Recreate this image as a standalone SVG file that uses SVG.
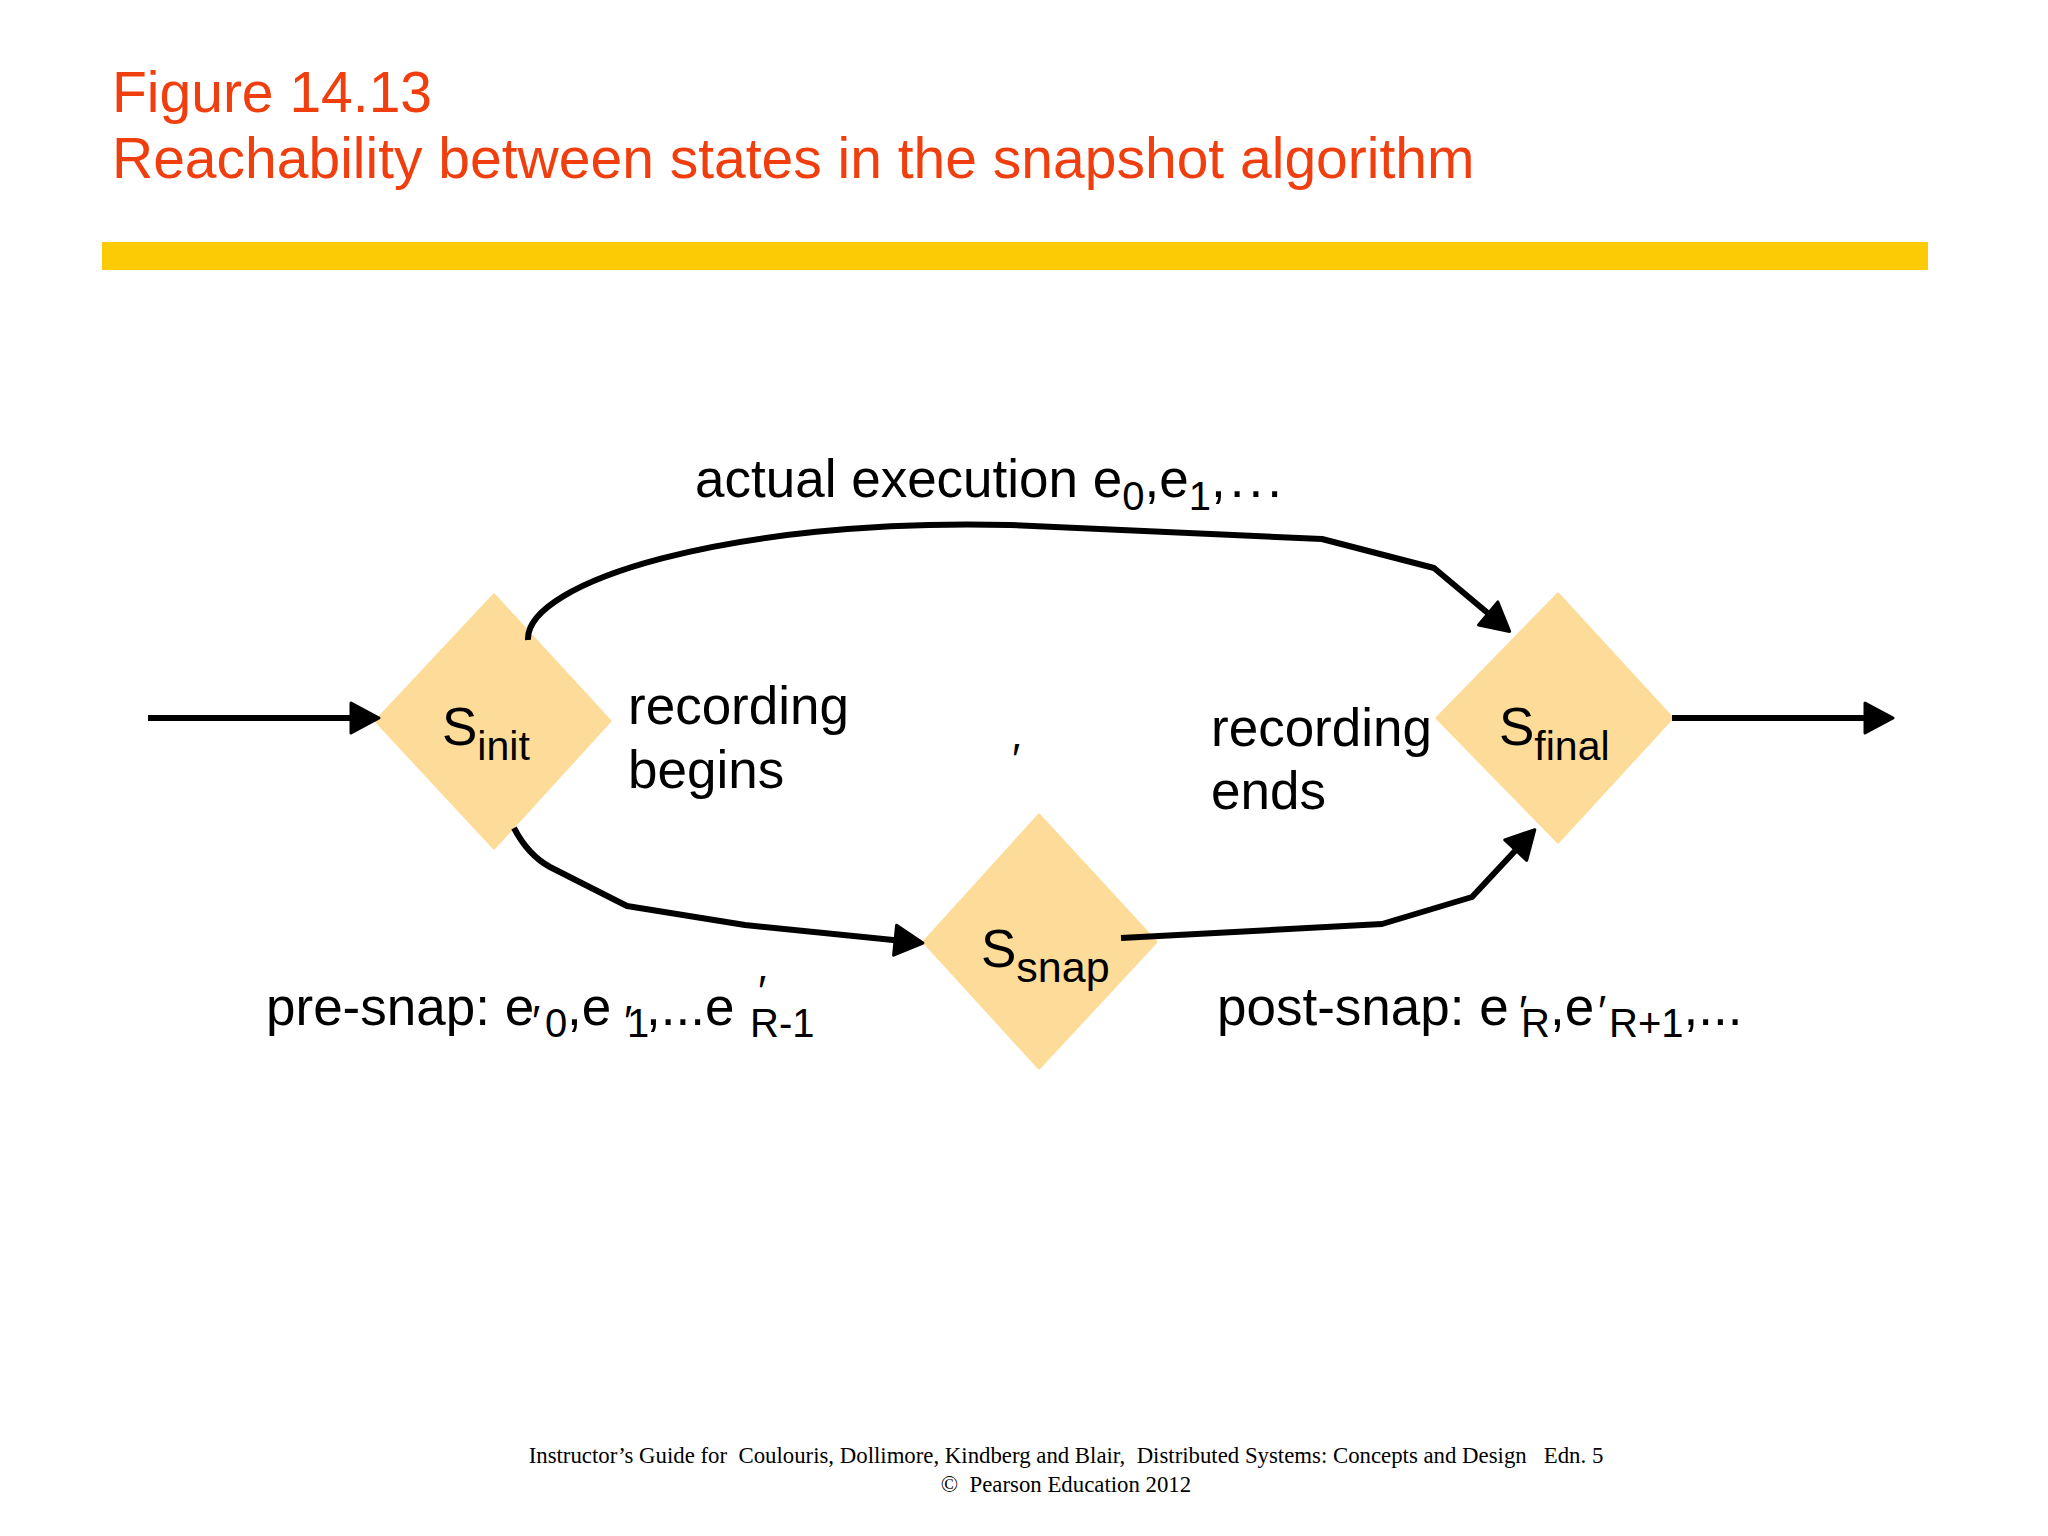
<svg xmlns="http://www.w3.org/2000/svg" width="2048" height="1536" viewBox="0 0 2048 1536">
<defs>
<style>
.title{font-family:"Liberation Sans",Arial,sans-serif;font-size:57px;fill:#F03E0E}
.lbl{font-family:"Liberation Sans",Arial,sans-serif;font-size:53px;fill:#000}
.sub{font-size:40px}
.nsub{font-size:41px}
.pr{font-size:44px}
.node{fill:#FDDB98;stroke:#FDDB98;stroke-width:3;stroke-linejoin:round}
.conn{fill:none;stroke:#000;stroke-width:6;stroke-linejoin:round}
.foot{font-family:"Liberation Serif","Times New Roman",serif;font-size:22.8px;fill:#000;white-space:pre}
</style>
<marker id="ah" markerUnits="userSpaceOnUse" viewBox="-22 -18 36 36" markerWidth="36" markerHeight="36" refX="0" refY="0" orient="auto" overflow="visible">
<path d="M-18,-15 L10,0 L-18,15 Z" fill="#000" stroke="#000" stroke-width="3" stroke-linejoin="round"/>
</marker>
</defs>
<rect width="2048" height="1536" fill="#fff"/>
<g id="header">
<text class="title" x="112" y="112">Figure 14.13</text>
<text class="title" x="112" y="178">Reachability between states in the snapshot algorithm</text>
<rect x="102" y="242" width="1826" height="28" fill="#FDCB06"/>
</g>
<g id="s-init">
<polygon class="node" points="376,721 494,595 610,721 494,848"/>
<text class="lbl" x="442" y="745">S<tspan class="nsub" dy="15">init</tspan></text>
</g>
<g id="s-final">
<polygon class="node" points="1437,718 1558,594 1672,718 1558,842"/>
<text class="lbl" x="1499" y="745">S<tspan class="nsub" dy="15">final</tspan></text>
</g>
<g id="s-snap">
<polygon class="node" points="924,942 1039,815 1156,942 1039,1068"/>
<text class="lbl" x="981" y="967">S<tspan class="nsub" dy="15" style="font-size:43px">snap</tspan></text>
</g>
<g id="connectors">
<path class="conn" d="M148,718 L369,718" marker-end="url(#ah)"/>
<path class="conn" d="M1672,718 L1883,718" marker-end="url(#ah)"/>
<path class="conn" d="M528,640 C525,582 730,518 1010,525 L1322,539 L1434,568 L1502,625" marker-end="url(#ah)"/>
<path class="conn" d="M514,828 Q528,855 550,867 L627,906 L745,925 L913,942" marker-end="url(#ah)"/>
<path class="conn" d="M1121,938 L1382,924 L1472,897 L1528,837" marker-end="url(#ah)"/>
</g>
<g id="labels">
<text class="lbl" x="695" y="497">actual execution e<tspan class="sub" dy="13">0</tspan><tspan dy="-13">,e</tspan><tspan class="sub" dy="13">1</tspan><tspan dy="-13" style="letter-spacing:4px">,...</tspan></text>
<text class="lbl" x="628" y="724">recording</text>
<text class="lbl" x="628" y="788">begins</text>
<text class="lbl" x="1211" y="746">recording</text>
<text class="lbl" x="1211" y="809">ends</text>
<text class="lbl pr" x="1012" y="775">′</text>
<text class="lbl" x="266" y="1025">pre-snap: e<tspan class="pr" x="532" y="1037">′</tspan><tspan class="sub" x="545" y="1037">0</tspan><tspan x="567" y="1025">,e</tspan><tspan class="pr" x="624" y="1037">′</tspan><tspan class="sub" x="627" y="1037">1</tspan><tspan x="646" y="1025">,...e</tspan><tspan class="pr" x="758" y="1007">′</tspan><tspan class="sub" x="750" y="1037">R-1</tspan></text>
<text class="lbl" x="1217" y="1025">post-snap: e<tspan class="pr" x="1519" y="1027">′</tspan><tspan class="sub" x="1521" y="1037">R</tspan><tspan x="1550" y="1025">,e</tspan><tspan class="pr" x="1598" y="1027">′</tspan><tspan class="sub" x="1609" y="1037">R+1</tspan><tspan y="1025">,...</tspan></text>
</g>
<g id="footer">
<text class="foot" x="1066" y="1463" text-anchor="middle">Instructor’s Guide for  Coulouris, Dollimore, Kindberg and Blair,  Distributed Systems: Concepts and Design   Edn. 5</text>
<text class="foot" x="1066" y="1492" text-anchor="middle">©  Pearson Education 2012</text>
</g>
</svg>
